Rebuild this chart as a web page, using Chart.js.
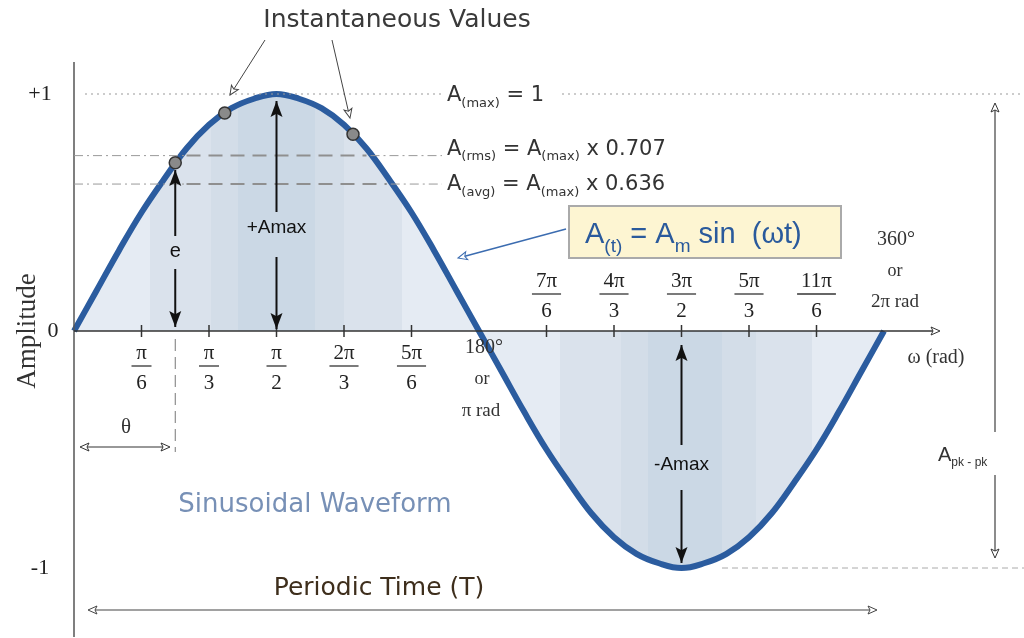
<!DOCTYPE html>
<html>
<head>
<meta charset="utf-8">
<script src="https://cdn.jsdelivr.net/npm/chart.js@4/dist/chart.umd.min.js"></script>
<style>
  html, body { margin: 0; padding: 0; background: #fff; }
  #wrap { width: 1024px; height: 638px; position: relative; }
</style>
</head>
<body>
<div id="wrap"><canvas id="sine"></canvas></div>
<script>
// sine wave, every 10 degrees
var angles = [0,10,20,30,40,50,60,70,80,90,100,110,120,130,140,150,160,170,180,
              190,200,210,220,230,240,250,260,270,280,290,300,310,320,330,340,350,360];
var amplitude = [0,0.17,0.34,0.5,0.64,0.77,0.87,0.94,0.98,1,0.98,0.94,0.87,0.77,0.64,0.5,0.34,0.17,0,
                 -0.17,-0.34,-0.5,-0.64,-0.77,-0.87,-0.94,-0.98,-1,-0.98,-0.94,-0.87,-0.77,-0.64,-0.5,-0.34,-0.17,0];

// the three "instantaneous values" dots
var instantDeg = [45, 67, 124];
var instantVal = [0.71, 0.92, 0.83];

// x tick labels (fractions of pi)
var tickDeg = [30, 60, 90, 120, 150, 210, 240, 270, 300, 330];
var tickNum = ["π", "π", "π", "2π", "5π", "7π", "4π", "3π", "5π", "11π"];
var tickDen = ["6", "3", "2", "3", "6", "6", "3", "2", "3", "6"];

// y tick labels
var yTickVal = [1, 0, -1];
var yTickLbl = ["+1", "0", "-1"];

// reference levels: max, rms, avg
var refVal = [1, 0.74, 0.62];

// shading bands under the curve (degrees) and their shade
var bandEdges = [0, 34, 61, 73, 107, 120, 146, 180, 216, 243, 255, 288, 303, 328, 360];
var bandShade = [0, 1, 2, 3, 2, 1, 0, 0, 1, 2, 3, 2, 1, 0];
var shades = ["#e5ebf3", "#dae2ec", "#d3dde8", "#cbd8e5"];

var sinePoints = angles.map(function (a, i) { return { x: a, y: amplitude[i] }; });
var dotPoints = instantDeg.map(function (a, i) { return { x: a, y: instantVal[i] }; });

function bandFill(context) {
  var chart = context.chart;
  var ca = chart.chartArea;
  if (!ca) return "#dae2ec";
  var sx = chart.scales.x;
  var g = chart.ctx.createLinearGradient(ca.left, 0, ca.right, 0);
  var w = ca.right - ca.left;
  for (var i = 0; i < bandShade.length; i++) {
    var a = (sx.getPixelForValue(bandEdges[i]) - ca.left) / w;
    var b = (sx.getPixelForValue(bandEdges[i + 1]) - ca.left) / w;
    g.addColorStop(Math.max(0, Math.min(1, a)), shades[bandShade[i]]);
    g.addColorStop(Math.max(0, Math.min(1, b)), shades[bandShade[i]]);
  }
  return g;
}

function line(ctx, x1, y1, x2, y2, color, width, dash) {
  ctx.save();
  ctx.strokeStyle = color;
  ctx.lineWidth = width;
  ctx.setLineDash(dash || []);
  ctx.beginPath();
  ctx.moveTo(x1, y1);
  ctx.lineTo(x2, y2);
  ctx.stroke();
  ctx.restore();
}

// solid black head
function head(ctx, x1, y1, x2, y2, len, half, color) {
  var ang = Math.atan2(y2 - y1, x2 - x1);
  ctx.save();
  ctx.fillStyle = color;
  ctx.translate(x2, y2);
  ctx.rotate(ang);
  ctx.beginPath();
  ctx.moveTo(0, 0);
  ctx.lineTo(-len, -half);
  ctx.lineTo(-len * 0.8, 0);
  ctx.lineTo(-len, half);
  ctx.closePath();
  ctx.fill();
  ctx.restore();
}

// thin open head
function openHead(ctx, x1, y1, x2, y2, color) {
  var ang = Math.atan2(y2 - y1, x2 - x1);
  ctx.save();
  ctx.strokeStyle = color;
  ctx.fillStyle = "#fff";
  ctx.lineWidth = 1;
  ctx.translate(x2, y2);
  ctx.rotate(ang);
  ctx.beginPath();
  ctx.moveTo(0, 0);
  ctx.lineTo(-9, -4);
  ctx.lineTo(-7, 0);
  ctx.lineTo(-9, 4);
  ctx.closePath();
  ctx.fill();
  ctx.stroke();
  ctx.restore();
}

function arrow(ctx, x1, y1, x2, y2, color, width) {
  line(ctx, x1, y1, x2, y2, color, width);
  head(ctx, x1, y1, x2, y2, 16, 6, color);
}

function text(ctx, s, x, y, font, color, align) {
  ctx.save();
  ctx.font = font;
  ctx.fillStyle = color;
  ctx.textAlign = align || "center";
  ctx.textBaseline = "middle";
  ctx.fillText(s, x, y);
  ctx.restore();
}

// text with subscripts: parts = [[str, isSub], ...]
function subText(ctx, parts, x, y, big, small, family, color) {
  ctx.save();
  ctx.fillStyle = color;
  ctx.textBaseline = "alphabetic";
  ctx.textAlign = "left";
  var cx = x;
  parts.forEach(function (p) {
    ctx.font = (p[1] ? small : big) + "px " + family;
    ctx.fillText(p[0], cx, y + (p[1] ? small * 0.45 : 0));
    cx += ctx.measureText(p[0]).width;
  });
  ctx.restore();
  return cx;
}

var annotations = {
  id: "annotations",
  afterDatasetsDraw: function (chart) {
    var ctx = chart.ctx;
    var sx = chart.scales.x, sy = chart.scales.y;
    var X = function (v) { return sx.getPixelForValue(v); };
    var Y = function (v) { return sy.getPixelForValue(v); };
    var x0 = X(0), y0 = Y(0);
    var serif = "'Liberation Serif', 'DejaVu Serif', serif";
    var sans = "'Liberation Sans', Arial, sans-serif";
    var deja = "'DejaVu Sans', sans-serif";
    var dark = "#333";

    // axes
    line(ctx, x0, 62, x0, 637, "#555", 1.5);
    line(ctx, x0, y0, 935, y0, "#333", 1.5);
    openHead(ctx, 900, y0, 940, y0, "#333");

    // x ticks with fraction labels
    tickDeg.forEach(function (d, i) {
      var px = X(d);
      line(ctx, px, y0 - 6, px, y0 + 6, "#333", 1.5);
      var above = d > 180;
      var ny = above ? y0 - 50 : y0 + 22;
      text(ctx, tickNum[i], px, ny, "21px " + serif, "#222");
      ctx.save();
      ctx.font = "21px " + serif;
      var w = Math.max(ctx.measureText(tickNum[i]).width, 12) + 8;
      ctx.restore();
      line(ctx, px - w / 2, ny + 13, px + w / 2, ny + 13, "#333", 1.3);
      text(ctx, tickDen[i], px, ny + 30, "21px " + serif, "#222");
    });

    // y tick labels
    yTickVal.forEach(function (v, i) {
      var lx = v === 0 ? 53 : 40;
      text(ctx, yTickLbl[i], lx, Y(v), "22px " + serif, "#222");
    });

    // axis titles
    ctx.save();
    ctx.translate(28, y0);
    ctx.rotate(-Math.PI / 2);
    text(ctx, "Amplitude", 0, 0, "27px " + serif, dark);
    ctx.restore();
    text(ctx, "ω (rad)", 936, y0 + 27, "20px " + serif, dark);
    text(ctx, "180°", 484, y0 + 17, "20px " + serif, dark);
    text(ctx, "or", 482, y0 + 48, "18px " + serif, dark);
    text(ctx, "π rad", 481, y0 + 80, "19px " + serif, dark);
    text(ctx, "360°", 896, 240, "20px " + serif, dark);
    text(ctx, "or", 895, 271, "18px " + serif, dark);
    text(ctx, "2π rad", 895, 302, "19px " + serif, dark);

    // reference lines
    var yMax = Y(refVal[0]), yRms = Y(refVal[1]), yAvg = Y(refVal[2]);
    line(ctx, 85, yMax, 442, yMax, "#999", 1, [2, 4]);
    line(ctx, 562, yMax, 1024, yMax, "#999", 1, [2, 4]);
    [[yRms, 50, 130], [yAvg, 50, 139]].forEach(function (r) {
      line(ctx, x0, r[0], X(r[1]), r[0], "#999", 1, [9, 4, 2, 4]);
      line(ctx, X(r[1]), r[0], X(r[2]), r[0], "#8f8f8f", 2, [14, 8]);
      line(ctx, X(r[2]) + 4, r[0], 442, r[0], "#999", 1, [9, 4, 2, 4]);
    });
    subText(ctx, [["A", 0], ["(max)", 1], [" = 1", 0]], 447, yMax + 7, 21, 13, deja, dark);
    subText(ctx, [["A", 0], ["(rms)", 1], [" = A", 0], ["(max)", 1], [" x 0.707", 0]], 447, yRms - 1, 21, 13, deja, dark);
    subText(ctx, [["A", 0], ["(avg)", 1], [" = A", 0], ["(max)", 1], [" x 0.636", 0]], 447, yAvg + 6, 21, 13, deja, dark);

    // formula box
    ctx.save();
    ctx.fillStyle = "#fdf5d2";
    ctx.fillRect(569, 206, 272, 52);
    ctx.strokeStyle = "#aaa";
    ctx.lineWidth = 2;
    ctx.strokeRect(569, 206, 272, 52);
    ctx.restore();
    subText(ctx, [["A", 0], ["(t)", 1], [" = A", 0], ["m", 1], [" sin  (ωt)", 0]], 585, 243, 29, 19, sans, "#2a5a9c");
    line(ctx, 566, 229, 462, 257, "#3b6cb0", 1.5);
    openHead(ctx, 520, 242, 458, 258, "#3b6cb0");

    // title + pointers to the dots
    text(ctx, "Instantaneous Values", 397, 20, "25px " + deja, "#3a3a3a");
    line(ctx, 265, 40, 232, 92, "#444", 1);
    openHead(ctx, 265, 40, 230, 95, "#444");
    line(ctx, 332, 40, 349, 114, "#444", 1);
    openHead(ctx, 332, 40, 350, 118, "#444");

    // +Amax
    var px = X(90);
    text(ctx, "+Amax", px, 228, "19px " + sans, "#111");
    arrow(ctx, px, 212, px, 101, "#111", 2);
    arrow(ctx, px, 257, px, y0 - 2, "#111", 2);

    // e
    px = X(45);
    text(ctx, "e", px, 251, "20px " + sans, "#111");
    arrow(ctx, px, 236, px, 170, "#111", 2);
    arrow(ctx, px, 269, px, y0 - 4, "#111", 2);
    line(ctx, px, y0 + 8, px, 452, "#777", 1, [12, 6]);

    // theta
    text(ctx, "θ", 126, 427, "21px " + serif, dark);
    line(ctx, 82, 447, 168, 447, "#333", 1.2);
    openHead(ctx, 120, 447, 80, 447, "#333");
    openHead(ctx, 130, 447, 170, 447, "#333");

    // -Amax
    px = X(270);
    text(ctx, "-Amax", px, 465, "19px " + sans, "#111");
    arrow(ctx, px, 445, px, y0 + 14, "#111", 2);
    arrow(ctx, px, 490, px, Y(-1) - 5, "#111", 2);

    // -1 level and peak to peak
    line(ctx, 722, Y(-1), 1024, Y(-1), "#aaa", 1, [6, 4]);
    line(ctx, 995, 108, 995, 432, "#666", 1.5);
    openHead(ctx, 995, 140, 995, 103, "#333");
    line(ctx, 995, 475, 995, 552, "#666", 1.5);
    openHead(ctx, 995, 520, 995, 558, "#333");
    subText(ctx, [["A", 0], ["pk - pk", 1]], 938, 461, 20, 12, sans, dark);

    // captions
    text(ctx, "Sinusoidal Waveform", 315, 505, "26px " + deja, "#7790b6");
    text(ctx, "Periodic Time (T)", 379, 588, "25px " + deja, "#3e2e1c");
    line(ctx, 92, 610, 873, 610, "#444", 1.2);
    openHead(ctx, 130, 610, 88, 610, "#444");
    openHead(ctx, 830, 610, 877, 610, "#444");
  }
};

new Chart(document.getElementById("sine"), {
  type: "line",
  data: {
    datasets: [
      {
        data: sinePoints,
        borderColor: "#2b5c9f",
        borderWidth: 6,
        backgroundColor: bandFill,
        fill: "origin",
        pointRadius: 0,
        tension: 0.4,
        clip: false,
        order: 2
      },
      {
        data: dotPoints,
        showLine: false,
        pointRadius: 6,
        pointBackgroundColor: "#8a8a8a",
        pointBorderColor: "#333",
        pointBorderWidth: 1.5,
        clip: false,
        order: 1
      }
    ]
  },
  options: {
    responsive: true,
    maintainAspectRatio: false,
    animation: false,
    layout: { padding: { left: 74, right: 140, top: 94, bottom: 70 } },
    scales: {
      x: { type: "linear", min: 0, max: 360, display: false },
      y: { type: "linear", min: -1, max: 1, display: false }
    },
    plugins: { legend: { display: false }, tooltip: { enabled: false } }
  },
  plugins: [annotations]
});
</script>
</body>
</html>
